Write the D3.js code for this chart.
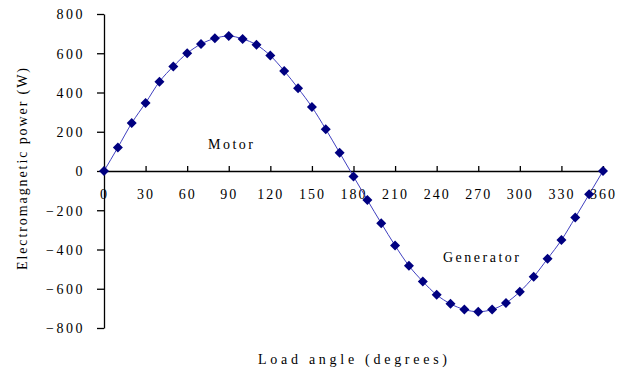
<!DOCTYPE html>
<html>
<head>
<meta charset="utf-8">
<script src="https://cdn.jsdelivr.net/npm/d3@7"></script>
<style>
  body { margin: 0; background: #fff; }
  text { font-family: "Liberation Serif", "Times New Roman", serif; fill: #000; }
</style>
</head>
<body>
<div id="chart"></div>
<script>
// Data
const angles = [0, 10, 20, 30, 40, 50, 60, 70, 80, 90, 100, 110, 120, 130, 140, 150, 160, 170, 180,
    190, 200, 210, 220, 230, 240, 250, 260, 270, 280, 290, 300, 310, 320, 330, 340, 350, 360];
const power = [0, 120, 244, 347, 455, 533, 600, 647, 676, 688, 673, 643, 588, 510, 422, 326, 213, 93, -28,
    -148, -266, -380, -483, -563, -631, -677, -706, -717, -706, -672, -615, -539, -447, -352, -237, -119, 0];
const xTicks = [0, 30, 60, 90, 120, 150, 180, 210, 240, 270, 300, 330, 360];
const yTicks = [-800, -600, -400, -200, 0, 200, 400, 600, 800];

// Chart Sizing
const W = 636, H = 376;
const margin = { left: 104, right: 33, top: 14, bottom: 48 };

const svg = d3.select("#chart").append("svg")
    .attr("width", W)
    .attr("height", H);

const x = d3.scaleLinear().domain([0, 360]).range([margin.left, W - margin.right]);
const y = d3.scaleLinear().domain([-800, 800]).range([H - margin.bottom, margin.top]);

// - - Y axis - -
const yAxis = svg.append("g")
    .attr("transform", `translate(${x(0)},0)`)
    .call(d3.axisLeft(y).tickValues(yTicks).tickSize(7).tickSizeOuter(0).tickPadding(12));
yAxis.select(".domain").attr("stroke", "#000").attr("stroke-width", 1.3);
yAxis.selectAll(".tick line").attr("stroke", "#000").attr("stroke-width", 1.3);
yAxis.selectAll(".tick text")
    .style("font-family", "Liberation Serif, serif")
    .style("font-size", "14px")
    .style("letter-spacing", "2.5px")
    .attr("dy", "0.35em");

// - - X axis (ticks point up, labels below) - -
const xAxis = svg.append("g")
    .attr("transform", `translate(0,${y(0)})`)
    .call(d3.axisTop(x).tickValues(xTicks).tickSize(5).tickSizeOuter(0));
xAxis.select(".domain").attr("stroke", "#000").attr("stroke-width", 1.3);
xAxis.selectAll(".tick line").attr("stroke", "#000").attr("stroke-width", 1.3);
xAxis.selectAll(".tick text")
    .attr("y", 28)
    .attr("dy", 0)
    .style("font-family", "Liberation Serif, serif")
    .style("font-size", "14px")
    .style("letter-spacing", "2px");

// - - Series line and markers - -
const pts = angles.map((a, i) => [a, power[i]]);

svg.append("path")
    .datum(pts)
    .attr("fill", "none")
    .attr("stroke", "#4040c0")
    .attr("stroke-width", 1)
    .attr("d", d3.line().x(d => x(d[0])).y(d => y(d[1])).curve(d3.curveMonotoneX));

const r = 5;
svg.append("g").selectAll("path")
    .data(pts)
    .enter()
    .append("path")
    .attr("d", `M0,${-r}L${r},0L0,${r}L${-r},0Z`)
    .attr("transform", d => `translate(${x(d[0])},${y(d[1])})`)
    .attr("fill", "#000080");

// - - Annotations - -
svg.append("text")
    .attr("x", 208).attr("y", 149)
    .attr("textLength", 45)
    .attr("lengthAdjust", "spacing")
    .style("font-size", "14px")
    .text("Motor");

svg.append("text")
    .attr("x", 443).attr("y", 262)
    .attr("textLength", 76)
    .attr("lengthAdjust", "spacing")
    .style("font-size", "14px")
    .text("Generator");

// - - Axis titles - -
svg.append("text")
    .attr("x", 258).attr("y", 364)
    .attr("textLength", 189)
    .attr("lengthAdjust", "spacing")
    .style("font-size", "14px")
    .text("Load angle (degrees)");

svg.append("text")
    .attr("transform", "translate(27,270) rotate(-90)")
    .attr("textLength", 202)
    .attr("lengthAdjust", "spacing")
    .style("font-size", "14px")
    .text("Electromagnetic power (W)");
</script>
</body>
</html>
